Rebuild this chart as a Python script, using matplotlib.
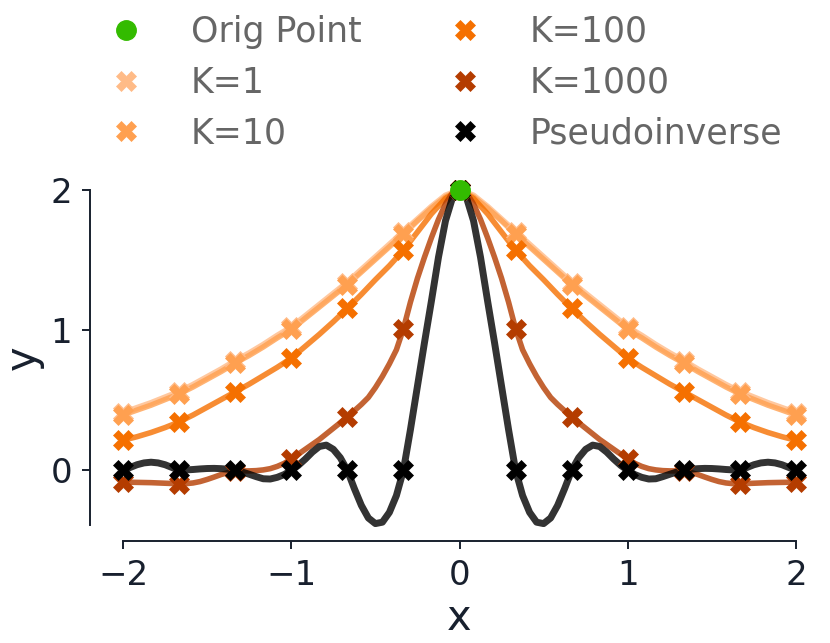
import numpy as np
import matplotlib
matplotlib.use("Agg")
import matplotlib.pyplot as plt

# ---------------- data ----------------
x_points = np.linspace(-2, 2, 13)          # sample locations
x_dense = np.linspace(-2, 2, 97)           # curve grid (step 1/24)
x_coarse = np.linspace(-2, 2, 49)          # curve grid (step 1/12)

orig_x = [0.0]
orig_y = [2.0]

k1_points = [0.41, 0.56, 0.78, 1.02, 1.34, 1.70, 2.00, 1.70, 1.34, 1.02, 0.78, 0.56, 0.41]
k10_points = [0.395, 0.545, 0.765, 1.005, 1.325, 1.685, 2.00, 1.685, 1.325, 1.005, 0.765, 0.545, 0.395]
k100_points = [0.214, 0.345, 0.56, 0.80, 1.155, 1.57, 2.00, 1.57, 1.155, 0.80, 0.56, 0.345, 0.214]
k1000_points = [-0.085, -0.095, -0.005, 0.08, 0.38, 1.01, 2.00, 1.01, 0.38, 0.08, -0.005, -0.095, -0.085]
pinv_points = [0, 0, 0, 0, 0, 0, 2.00, 0, 0, 0, 0, 0, 0]

k1_curve = [0.41, 0.445, 0.48, 0.52, 0.56, 0.61, 0.665, 0.72, 0.78, 0.835, 0.895, 0.96, 1.02,
            1.10, 1.18, 1.26, 1.34, 1.43, 1.52, 1.61, 1.70, 1.79, 1.88, 1.96, 2.00,
            1.96, 1.88, 1.79, 1.70, 1.61, 1.52, 1.43, 1.34, 1.26, 1.18, 1.10, 1.02,
            0.96, 0.895, 0.835, 0.78, 0.72, 0.665, 0.61, 0.56, 0.52, 0.48, 0.445, 0.41]
k10_curve = [0.395, 0.43, 0.465, 0.505, 0.545, 0.595, 0.65, 0.705, 0.765, 0.82, 0.88, 0.945, 1.005,
             1.085, 1.165, 1.245, 1.325, 1.415, 1.505, 1.595, 1.685, 1.78, 1.87, 1.95, 2.00,
             1.95, 1.87, 1.78, 1.685, 1.595, 1.505, 1.415, 1.325, 1.245, 1.165, 1.085, 1.005,
             0.945, 0.88, 0.82, 0.765, 0.705, 0.65, 0.595, 0.545, 0.505, 0.465, 0.43, 0.395]
k100_curve = [0.214, 0.24, 0.27, 0.305, 0.345, 0.395, 0.45, 0.505, 0.56, 0.615, 0.675, 0.735, 0.80,
              0.885, 0.97, 1.06, 1.155, 1.255, 1.36, 1.46, 1.57, 1.70, 1.83, 1.94, 2.00,
              1.94, 1.83, 1.70, 1.57, 1.46, 1.36, 1.255, 1.155, 1.06, 0.97, 0.885, 0.80,
              0.735, 0.675, 0.615, 0.56, 0.505, 0.45, 0.395, 0.345, 0.305, 0.27, 0.24, 0.214]
k1000_curve = [-0.085, -0.085, -0.086, -0.087, -0.088, -0.09, -0.092, -0.094,
               -0.095, -0.095, -0.09, -0.08, -0.065, -0.048, -0.03, -0.015,
               -0.005, -0.004, -0.004, -0.002, 0.003, 0.012, 0.028, 0.05,
               0.08, 0.115, 0.15, 0.185, 0.22, 0.26, 0.30, 0.34,
               0.38, 0.425, 0.47, 0.52, 0.59, 0.67, 0.76, 0.86,
               1.01, 1.20, 1.37, 1.52, 1.66, 1.79, 1.90, 1.98,
               2.00,
               1.98, 1.90, 1.79, 1.66, 1.52, 1.37, 1.20, 1.01,
               0.86, 0.76, 0.67, 0.59, 0.52, 0.47, 0.425, 0.38,
               0.34, 0.30, 0.26, 0.22, 0.185, 0.15, 0.115, 0.08,
               0.05, 0.028, 0.012, 0.003, -0.002, -0.004, -0.004, -0.005,
               -0.015, -0.03, -0.048, -0.065, -0.08, -0.09, -0.095, -0.095,
               -0.094, -0.092, -0.09, -0.088, -0.087, -0.086, -0.085, -0.085]
pinv_curve = [0.00, 0.02, 0.04, 0.053, 0.058, 0.053, 0.04, 0.02,
              0.00, 0.003, 0.006, 0.01, 0.013, 0.014, 0.012, 0.008,
              0.00, -0.012, -0.028, -0.045, -0.06, -0.062, -0.05, -0.03,
              0.00, 0.035, 0.08, 0.13, 0.17, 0.18, 0.15, 0.09,
              0.00, -0.13, -0.25, -0.34, -0.38, -0.37, -0.30, -0.18,
              0.00, 0.29, 0.60, 0.91, 1.21, 1.52, 1.78, 1.945,
              2.00,
              1.945, 1.78, 1.52, 1.21, 0.91, 0.60, 0.29, 0.00,
              -0.18, -0.30, -0.37, -0.38, -0.34, -0.25, -0.13, 0.00,
              0.09, 0.15, 0.18, 0.17, 0.13, 0.08, 0.035, 0.00,
              -0.03, -0.05, -0.062, -0.06, -0.045, -0.028, -0.012, 0.00,
              0.008, 0.012, 0.014, 0.013, 0.01, 0.006, 0.003, 0.00,
              0.02, 0.04, 0.053, 0.058, 0.053, 0.04, 0.02, 0.00]

series_labels = ["K=1", "K=10", "K=100", "K=1000", "Pseudoinverse"]
x_ticks = [-2, -1, 0, 1, 2]
y_ticks = [0, 1, 2]

# ---------------- style ----------------
colors = ["#ffbb87", "#ffa050", "#f57000", "#b43c00", "#000000"]
orig_color = "#33bb00"
axis_color = "#18202e"
legend_text_color = "#666666"

fig = plt.figure(figsize=(8.3, 6.43), dpi=100)
ax = fig.add_axes([123 / 830, 118 / 643, 673 / 830, 335 / 643])

curves = [(x_coarse, k1_curve), (x_coarse, k10_curve), (x_coarse, k100_curve),
          (x_dense, k1000_curve), (x_dense, pinv_curve)]
points = [k1_points, k10_points, k100_points, k1000_points, pinv_points]
lws = [4.5, 4.0, 4.0, 4.0, 5.0]

handles = []
for (cx, cy), py, c, lw, lab in zip(curves, points, colors, lws, series_labels):
    ax.plot(cx, cy, color=c, alpha=0.8, lw=lw, clip_on=False, zorder=2)
    h, = ax.plot(x_points, py, ls="none", marker="X", ms=15, color=c,
                 mec=c, mew=0.5, clip_on=False, zorder=3, label=lab)
    handles.append(h)

ho, = ax.plot(orig_x, orig_y, ls="none", marker="o", ms=14, color=orig_color,
              mec=orig_color, clip_on=False, zorder=4, label="Orig Point")

ax.set_xlim(-2, 2)
ax.set_ylim(-0.39, 2.0)
ax.set_xticks(x_ticks)
ax.set_yticks(y_ticks)

for s in ["top", "right"]:
    ax.spines[s].set_visible(False)
ax.spines["left"].set_position(("outward", 33 * 0.72))
ax.spines["bottom"].set_position(("outward", 16 * 0.72))
for s in ["left", "bottom"]:
    ax.spines[s].set_color(axis_color)
    ax.spines[s].set_linewidth(1.4)

ax.tick_params(axis="both", length=5.8, width=1.4, pad=7, labelsize=24.5,
               colors=axis_color)
ax.set_xlabel("x", fontsize=30, color=axis_color, labelpad=4)
ax.set_ylabel("y", fontsize=30, color=axis_color, labelpad=5)

all_handles = [ho] + handles
all_labels = ["Orig Point"] + series_labels
fig.legend(all_handles, all_labels, ncol=2, loc="upper left",
           bbox_to_anchor=(91 / 830, 1 - 15 / 643), frameon=False,
           fontsize=25, labelcolor=legend_text_color, handlelength=2.0,
           handletextpad=0.87, columnspacing=1.97, labelspacing=0.48,
           borderpad=0, borderaxespad=0, numpoints=1)

fig.savefig("out.png", dpi=100)
